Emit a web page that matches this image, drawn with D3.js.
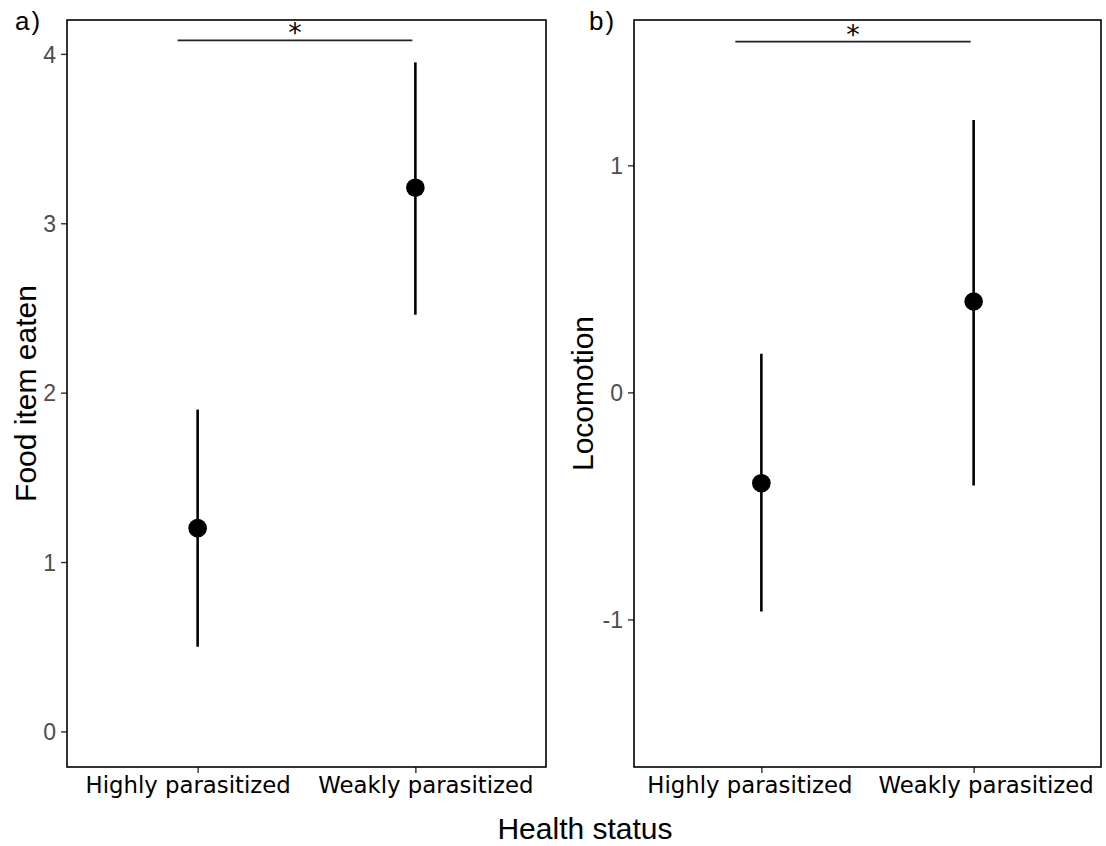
<!DOCTYPE html>
<html><head><meta charset="utf-8">
<script src="https://cdn.jsdelivr.net/npm/d3@7"></script>
<style>body{margin:0;background:#fff}svg{display:block}</style>
</head><body>
<script>
const categories = ["Highly parasitized", "Weakly parasitized"];
const foodMean = [1.20, 3.21];
const foodLow = [0.50, 2.46];
const foodHigh = [1.90, 3.95];
const locoMean = [-0.40, 0.40];
const locoLow = [-0.965, -0.41];
const locoHigh = [0.17, 1.20];
const foodTicks = [0, 1, 2, 3, 4];
const locoTicks = [-1, 0, 1];
const foodDomain = [-0.21, 4.2];
const locoDomain = [-1.65, 1.64];
const foodSig = 4.08, locoSig = 1.545;

const W = 1106, H = 846;
const svg = d3.select("body").append("svg").attr("width", W).attr("height", H);

function panel(cfg) {
  const {x0, x1, y0, y1, domain, ticks, mean, low, high, sig, label, ytitle, ytitleX, labelX, sigOff, shift} = cfg;
  const xp = d3.scaleLinear().domain([0.4, 2.6]).range([x0, x1]);
  const xc = c => xp(categories.indexOf(c) + 1);
  const y = d3.scaleLinear().domain(domain).range([y1, y0]);
  const g = svg.append("g");

  const ya = g.append("g").attr("transform", `translate(${x0},0)`)
    .call(d3.axisLeft(y).tickValues(ticks).tickSize(6).tickPadding(5).tickFormat(d => String(d)));
  ya.select(".domain").remove();
  ya.selectAll(".tick line").attr("stroke", "#333").attr("stroke-width", 1.4);
  ya.selectAll(".tick text").attr("fill", "#4d4d4d").attr("font-family", "Liberation Sans, Arial, sans-serif")
    .attr("font-size", 23).attr("dy", "0.36em");

  const xa = g.append("g").attr("transform", `translate(0,${y1})`)
    .call(d3.axisBottom(xp).tickValues([1, 2]).tickSize(6).tickPadding(6).tickFormat(i => categories[i - 1]));
  xa.select(".domain").remove();
  xa.selectAll(".tick line").attr("stroke", "#333").attr("stroke-width", 1.4);
  xa.selectAll(".tick text").attr("fill", "#000").attr("font-family", "DejaVu Sans, Verdana, sans-serif")
    .attr("font-size", 22.8).attr("dy", null).attr("y", 26)
    .attr("dx", (d, i) => shift[i]);

  g.append("rect").attr("x", x0).attr("y", y0).attr("width", x1 - x0).attr("height", y1 - y0)
    .attr("fill", "none").attr("stroke", "#000").attr("stroke-width", 1.6);

  g.selectAll(".eb").data(categories).enter().append("line")
    .attr("x1", c => xc(c)).attr("x2", c => xc(c))
    .attr("y1", (c, i) => y(low[i])).attr("y2", (c, i) => y(high[i]))
    .attr("stroke", "#000").attr("stroke-width", 2.6);
  g.selectAll(".pt").data(categories).enter().append("circle")
    .attr("cx", c => xc(c)).attr("cy", (c, i) => y(mean[i])).attr("r", 9.3).attr("fill", "#000");

  const bx0 = xc(categories[0]) - sigOff, bx1 = xc(categories[1]) - 3;
  g.append("line").attr("x1", bx0).attr("x2", bx1)
    .attr("y1", y(sig)).attr("y2", y(sig)).attr("stroke", "#222").attr("stroke-width", 1.8);
  g.append("text").attr("x", (bx0 + bx1) / 2).attr("y", y(sig) + 2)
    .attr("text-anchor", "middle").attr("font-family", "DejaVu Sans, sans-serif").attr("font-size", 27).text("*");

  svg.append("text").attr("x", labelX).attr("y", 30).attr("font-family", "Liberation Sans, Arial, sans-serif")
    .attr("font-size", 26).attr("letter-spacing", 2).text(label);

  svg.append("text").attr("transform", `translate(${ytitleX},${(y0 + y1) / 2}) rotate(-90)`)
    .attr("text-anchor", "middle").attr("font-family", "Liberation Sans, Arial, sans-serif")
    .attr("font-size", 30).text(ytitle);
}

panel({x0: 67, x1: 546, y0: 20, y1: 767, domain: foodDomain, ticks: foodTicks,
  mean: foodMean, low: foodLow, high: foodHigh, sig: foodSig, label: "a)", ytitle: "Food item eaten",
  ytitleX: 36, labelX: 15, sigOff: 20, shift: [-10, 10]});
panel({x0: 634, x1: 1101, y0: 20, y1: 767, domain: locoDomain, ticks: locoTicks,
  mean: locoMean, low: locoLow, high: locoHigh, sig: locoSig, label: "b)", ytitle: "Locomotion",
  ytitleX: 593, labelX: 589, sigOff: 26, shift: [-12, 12]});

svg.append("text").attr("x", 585).attr("y", 839).attr("text-anchor", "middle")
  .attr("font-family", "Liberation Sans, Arial, sans-serif").attr("font-size", 30).text("Health status");
</script>
</body></html>
